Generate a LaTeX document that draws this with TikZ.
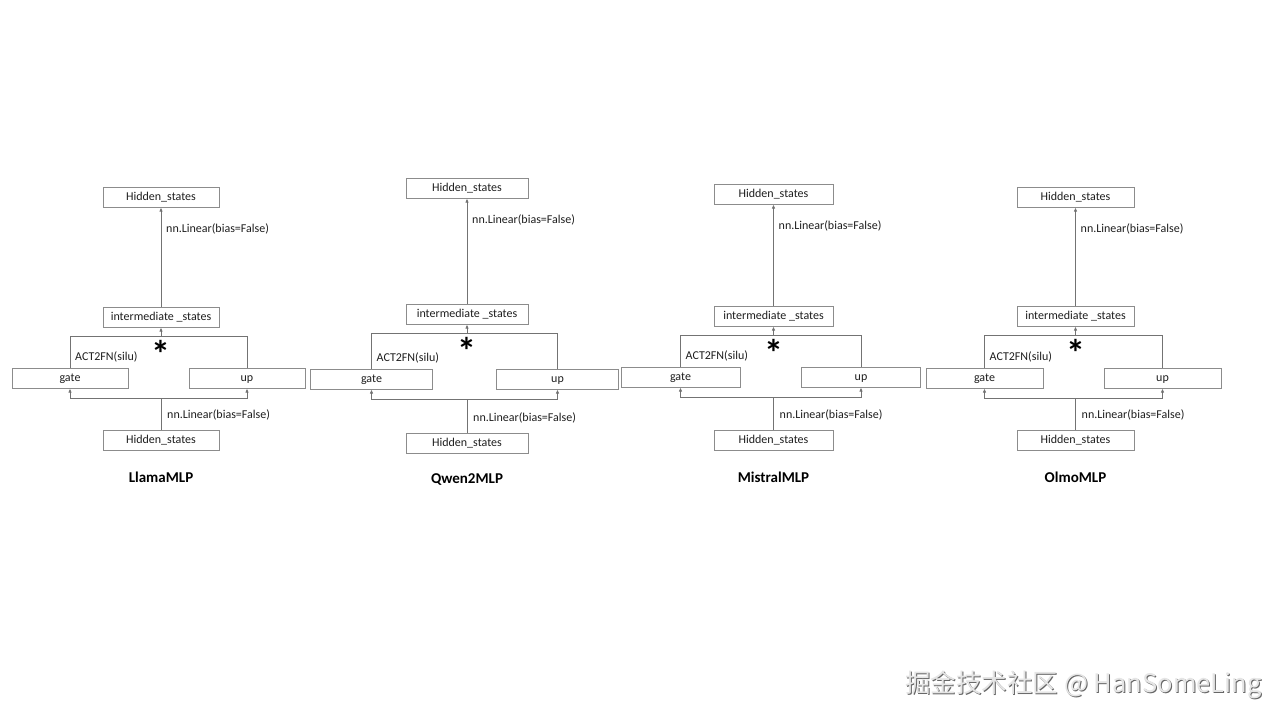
\documentclass[tikz,border=0pt]{standalone}
\usepackage{fontspec}
\setmainfont{Carlito}
\newfontfamily\cjk{Noto Sans CJK SC}
\usetikzlibrary{arrows.meta}
\definecolor{linegray}{RGB}{115,115,115}
\definecolor{boxgray}{RGB}{140,140,140}
\definecolor{txt}{RGB}{30,30,30}
\tikzset{
  mbox/.style={draw=boxgray, line width=1pt, minimum height=20pt, inner sep=0pt, text height=9pt, text depth=2pt, font=\fontsize{12}{12}\selectfont, text=txt},
  conn/.style={draw=linegray, line width=1pt},
  arr/.style={conn, -{Latex[length=4pt,width=3.4pt,fill=black]}},
  lbl/.style={anchor=west, inner sep=0pt, font=\fontsize{12}{12}\selectfont, text=txt},
  ttl/.style={inner sep=0pt, font=\bfseries\fontsize{15}{15}\selectfont, text=black},
  star/.style={inner sep=0pt, anchor=base, font=\bfseries\fontsize{38}{38}\selectfont, text=black}
}
% #1 name, #2 cx, #3 box width, #4 y top box, #5 y intermediate, #6 y gate/up, #7 gate cx, #8 up cx, #9 y bottom box
\newcommand\mlpdiag[9]{%
  \node[mbox, minimum width=#3pt] (#1-top) at (#2, #4+10) {Hidden\_states};
  \node[mbox, minimum width=#3pt] (#1-int) at (#2, #5+10) {intermediate \_states};
  \node[mbox, minimum width=#3pt] (#1-gate) at (#7, #6+10) {gate};
  \node[mbox, minimum width=#3pt] (#1-up) at (#8, #6+10) {up};
  \node[mbox, minimum width=#3pt] (#1-bot) at (#2, #9+10) {Hidden\_states};
  \coordinate (#1-tl) at (#7, #5+29);
  \coordinate (#1-tm) at (#2, #5+29);
  \coordinate (#1-tr) at (#8, #5+29);
  \coordinate (#1-bm) at (#2, #6+30);
  \draw[arr] (#1-int.north) -- (#1-top.south);
  \draw[conn] (#1-gate.north) -- (#1-tl) -- (#1-tr) -- (#1-up.north);
  \draw[arr] (#1-tm) -- (#1-int.south);
  \draw[conn] (#1-bot.north) -- (#1-bm);
  \draw[arr] (#1-bm) -| (#1-gate.south);
  \draw[arr] (#1-bm) -| (#1-up.south);
  \node[lbl] (#1-l1) at (#2+5, #4+42) {nn.Linear(bias=False)};
  \node[lbl] (#1-l2) at (#2+6, #9-15) {nn.Linear(bias=False)};
  \node[lbl] (#1-act) at (#7+5, #6-11) {ACT2FN(silu)};
  \node[star] (#1-star) at (#2, #5+60) {*};
  \node[ttl] (#1-title) at (#2, #9+47) {#1};
}
\begin{document}
\begin{tikzpicture}[x=1pt, y=-1pt]
\useasboundingbox[fill=white] (0,0) rectangle (1280,720);
\mlpdiag{LlamaMLP}{161}{116}{187}{307}{368}{70}{247}{430}
\mlpdiag{Qwen2MLP}{467}{122}{178}{304}{369}{371.5}{557.5}{433}
\mlpdiag{MistralMLP}{773.5}{119}{184}{306}{367}{680.5}{861}{430}
\mlpdiag{OlmoMLP}{1075.5}{117}{187}{306}{368}{984.5}{1162.5}{430}
\node[inner sep=0pt, text=black!60, font=\cjk\fontsize{25.5}{25.5}\selectfont] (wm-shadow) at (1084.5, 686) {掘金技术社区 @ HanSomeLing};
\node[inner sep=0pt, text=black!10, font=\cjk\fontsize{25.5}{25.5}\selectfont] (wm) at (1083.5, 685) {掘金技术社区 @ HanSomeLing};
\end{tikzpicture}
\end{document}
